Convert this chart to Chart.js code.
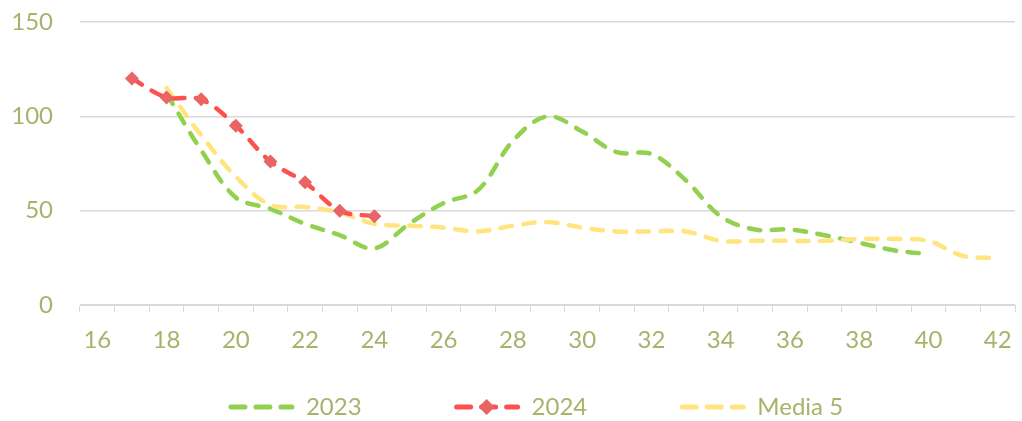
<!DOCTYPE html>
<html>
<head>
<meta charset="utf-8">
<script src="https://cdn.jsdelivr.net/npm/chart.js@4.4.1/dist/chart.umd.min.js"></script>
<style>
  html, body { margin: 0; padding: 0; background: #fff; }
  #wrap { width: 1022px; height: 421px; }
</style>
</head>
<body>
<div id="wrap"><canvas id="chart"></canvas></div>
<script>
// weeks on the x axis
const weeks = [16, 17, 18, 19, 20, 21, 22, 23, 24, 25, 26, 27, 28, 29, 30, 31, 32, 33, 34, 35, 36, 37, 38, 39, 40, 41, 42];

const serie2023 = [null, null, 112, 82, 57, 51, 43, 37, 30, 43, 54, 61, 87, 100, 92, 81, 80, 66, 47, 40, 40, 37, 33, 29, 27, null, null];
const serie2024 = [null, 120, 110, 109, 95, 76, 65, 50, 47, null, null, null, null, null, null, null, null, null, null, null, null, null, null, null, null, null, null];
const media5 = [null, null, 115, 90, 68, 53, 52, 49, 43, 42, 41, 39, 42, 44, 41, 39, 39, 39, 34, 34, 34, 34, 35, 35, 34, 26, 25];

const yTicks = [0, 50, 100, 150];

const textColor = '#A9B26A';
const gridColor = '#D9D9D9';
const fontFamily = 'Lato, "Open Sans", sans-serif';
const fontSize = 24;

const lineBase = {
  borderWidth: 4.5,
  borderDash: [11.5, 11.5],
  borderCapStyle: 'round',
  tension: 0.35,
  fill: false,
  spanGaps: false
};

// legend drawn by hand: dashed sample line (+ diamond for markers), then the label
const bottomLegend = {
  id: 'bottomLegend',
  afterDraw(chart) {
    const ctx = chart.ctx;
    const area = chart.chartArea;
    const iconW = 66, iconGap = 12, itemGap = 92;
    const y = 407;
    ctx.save();
    ctx.font = fontSize + 'px ' + fontFamily;
    const items = chart.data.datasets.map(ds => ({ ds, w: ctx.measureText(ds.label).width }));
    const total = items.reduce((s, it) => s + iconW + iconGap + it.w, 0) + itemGap * (items.length - 1);
    let x = (area.left + area.right) / 2 - 12 - total / 2;
    items.forEach(({ ds, w }) => {
      ctx.strokeStyle = ds.borderColor;
      ctx.lineWidth = 5;
      ctx.lineCap = 'round';
      ctx.setLineDash([14, 11]);
      ctx.beginPath();
      ctx.moveTo(x + 3, y);
      ctx.lineTo(x + iconW - 2, y);
      ctx.stroke();
      ctx.setLineDash([]);
      if (ds.pointRadius > 0) {
        const cx = x + iconW / 2;
        ctx.fillStyle = ds.pointBackgroundColor;
        ctx.beginPath();
        ctx.moveTo(cx, y - 8); ctx.lineTo(cx + 8, y); ctx.lineTo(cx, y + 8); ctx.lineTo(cx - 8, y);
        ctx.closePath();
        ctx.fill();
      }
      ctx.fillStyle = textColor;
      ctx.textBaseline = 'middle';
      ctx.textAlign = 'left';
      ctx.fillText(ds.label, x + iconW + iconGap, y);
      x += iconW + iconGap + w + itemGap;
    });
    ctx.restore();
  }
};

new Chart(document.getElementById('chart'), {
  type: 'line',
  data: {
    labels: weeks,
    datasets: [
      Object.assign({}, lineBase, {
        label: '2023',
        data: serie2023,
        borderColor: '#92D050',
        pointRadius: 0,
        order: 3
      }),
      Object.assign({}, lineBase, {
        label: '2024',
        data: serie2024,
        borderColor: '#FF5050',
        pointStyle: 'rectRot',
        pointRadius: 7,
        pointBackgroundColor: '#E96464',
        pointBorderWidth: 0,
        order: 1
      }),
      Object.assign({}, lineBase, {
        label: 'Media 5',
        data: media5,
        borderColor: '#FFE480',
        pointRadius: 0,
        order: 2
      })
    ]
  },
  plugins: [bottomLegend],
  options: {
    responsive: true,
    maintainAspectRatio: false,
    animation: false,
    layout: { padding: { top: 22, right: 2, left: 0, bottom: 58 } },
    plugins: {
      tooltip: { enabled: false },
      legend: { display: false }
    },
    scales: {
      x: {
        offset: true,
        grid: {
          offset: true,
          drawOnChartArea: false,
          drawTicks: true,
          tickLength: 7,
          color: gridColor
        },
        border: { color: gridColor, width: 1 },
        ticks: {
          color: textColor,
          font: { family: fontFamily, size: fontSize },
          autoSkip: false,
          maxRotation: 0,
          padding: 14,
          callback(value, index) {
            return index % 2 === 0 ? weeks[index] : '';
          }
        },
        afterFit(scale) {
          scale.height = 58;
          scale.paddingLeft = 0;
          scale.paddingRight = 0;
        }
      },
      y: {
        min: 0,
        max: 150,
        afterBuildTicks(scale) {
          scale.ticks = yTicks.map(v => ({ value: v }));
        },
        grid: { color: gridColor, drawTicks: false, lineWidth: 1.5 },
        border: { display: false },
        ticks: {
          color: textColor,
          font: { family: fontFamily, size: fontSize },
          padding: 27
        },
        afterFit(scale) {
          scale.width = 80;
          // label padding would otherwise push the plot top down
          scale.paddingTop = 0;
        }
      }
    }
  }
});
</script>
</body>
</html>
